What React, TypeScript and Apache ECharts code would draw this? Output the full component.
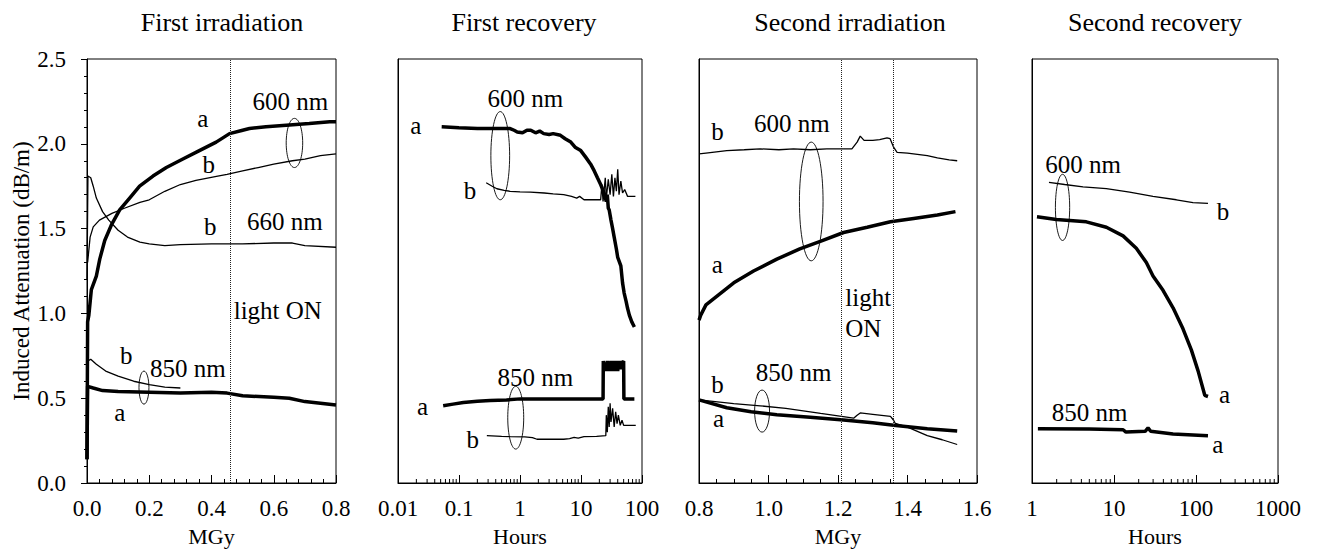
import React, { useEffect, useRef } from "react";
import * as echarts from "echarts";

const FONT = "'Liberation Serif', 'Times New Roman', 'DejaVu Serif', serif";

// ---------- Panel titles ----------
const panelTitles = ["First irradiation", "First recovery", "Second irradiation", "Second recovery"];
const yAxisName = "Induced Attenuation (dB/m)";
const xNames = ["MGy", "Hours", "MGy", "Hours"];

// ---------- tick labels for log axes ----------
const p2TickValues = [0.01, 0.1, 1, 10, 100];
const p2TickLabels = ["0.01", "0.1", "1", "10", "100"];
const p4TickValues = [1, 10, 100, 1000];
const p4TickLabels = ["1", "10", "100", "1000"];
const p2Decades = [0.01, 0.1, 1, 10];
const p4Decades = [1, 10, 100];
const minorMult = [2, 3, 4, 5, 6, 7, 8, 9];

// ---------- Panel 1: First irradiation ----------
const p1_600a = [[0, 0.14], [0.002, 0.95], [0.006, 0.99], [0.014, 1.14], [0.03, 1.22], [0.041, 1.32], [0.057, 1.43], [0.078, 1.52], [0.105, 1.61], [0.137, 1.68], [0.169, 1.75], [0.212, 1.81], [0.255, 1.86], [0.308, 1.91], [0.361, 1.96], [0.415, 2.01], [0.458, 2.06], [0.5, 2.08], [0.522, 2.09], [0.575, 2.10], [0.64, 2.11], [0.714, 2.12], [0.78, 2.13], [0.8, 2.13]];
const p1_600b = [[0.002, 1.30], [0.01, 1.45], [0.02, 1.51], [0.04, 1.55], [0.08, 1.59], [0.12, 1.62], [0.17, 1.655], [0.2, 1.67], [0.25, 1.72], [0.3, 1.76], [0.35, 1.785], [0.42, 1.81], [0.45, 1.82], [0.5, 1.84], [0.55, 1.86], [0.6, 1.88], [0.66, 1.90], [0.7, 1.91], [0.75, 1.93], [0.8, 1.94]];
const p1_660b = [[0, 1.2], [0.003, 1.81], [0.012, 1.80], [0.02, 1.75], [0.03, 1.68], [0.05, 1.60], [0.07, 1.55], [0.1, 1.49], [0.13, 1.45], [0.17, 1.42], [0.2, 1.41], [0.25, 1.40], [0.3, 1.405], [0.4, 1.41], [0.5, 1.41], [0.6, 1.415], [0.66, 1.415], [0.7, 1.40], [0.8, 1.39]];
const p1_850b = [[0, 0.3], [0.003, 0.72], [0.012, 0.73], [0.03, 0.70], [0.06, 0.66], [0.1, 0.63], [0.15, 0.60], [0.2, 0.58], [0.25, 0.565], [0.3, 0.56]];
const p1_850a = [[0, 0.14], [0.002, 0.57], [0.02, 0.56], [0.05, 0.545], [0.1, 0.54], [0.2, 0.535], [0.3, 0.53], [0.4, 0.535], [0.45, 0.53], [0.5, 0.515], [0.6, 0.505], [0.65, 0.50], [0.7, 0.48], [0.75, 0.47], [0.8, 0.46]];
const p1LightOn = [0.46];
const p1Notes: [number, number, string][] = [[0.372, 2.15, "a"], [0.653, 2.25, "600 nm"], [0.391, 1.88, "b"], [0.396, 1.51, "b"], [0.636, 1.54, "660 nm"], [0.613, 1.02, "light ON"], [0.126, 0.754, "b"], [0.324, 0.678, "850 nm"], [0.105, 0.413, "a"]];
const p1Ellipses = [[0.640, 0.693, 1.86, 2.15], [0.167, 0.199, 0.465, 0.66]];

// ---------- Panel 2: First recovery (Hours, log) ----------
const p2_600a = [[0.052, 2.10], [0.1, 2.095], [0.2, 2.09], [0.4, 2.09], [0.69, 2.09], [0.8, 2.08], [0.9, 2.07], [1.1, 2.065], [1.3, 2.08], [1.5, 2.08], [1.8, 2.065], [2.1, 2.075], [2.45, 2.06], [3, 2.055], [3.5, 2.06], [4.6, 2.05], [5.5, 2.03], [6.8, 2.01], [8, 1.98], [9.9, 1.96], [12, 1.92], [14.4, 1.88], [16.5, 1.84], [18.6, 1.80], [21, 1.76], [23.9, 1.71], [26, 1.66], [27, 1.70], [28, 1.62], [29, 1.61], [31, 1.55], [33, 1.50], [35, 1.45], [38, 1.38], [40, 1.33], [42, 1.31], [45, 1.28], [48, 1.18], [51, 1.12], [55, 1.07], [58, 1.03], [62, 0.99], [68, 0.95], [75, 0.92]];
const p2_600b = [[0.279, 1.77], [0.35, 1.75], [0.418, 1.735], [0.55, 1.725], [0.69, 1.72], [1, 1.717], [1.48, 1.715], [2.5, 1.71], [3.5, 1.705], [5.2, 1.70], [7, 1.69], [8.5, 1.68], [9.5, 1.69], [11.2, 1.67], [15, 1.67], [21, 1.67], [22, 1.76], [23, 1.66], [25, 1.80], [26, 1.68], [28, 1.79], [30, 1.70], [32, 1.82], [34, 1.69], [36, 1.80], [38, 1.72], [40, 1.85], [42, 1.70], [45, 1.78], [48, 1.71], [52, 1.73], [58, 1.69], [78, 1.69]];
const p2_850a = [[0.055, 0.455], [0.08, 0.465], [0.118, 0.475], [0.2, 0.482], [0.324, 0.486], [0.6, 0.49], [1.01, 0.496], [2, 0.496], [5.25, 0.496], [10, 0.496], [21, 0.496], [23, 0.496], [23.2, 0.72], [24, 0.67], [25, 0.71], [26, 0.66], [27, 0.72], [28, 0.66], [29, 0.71], [30, 0.67], [31, 0.72], [32, 0.66], [33, 0.71], [34, 0.67], [35, 0.72], [36, 0.66], [37, 0.72], [38, 0.67], [39, 0.71], [40, 0.66], [41, 0.72], [42, 0.67], [43, 0.71], [44, 0.67], [45, 0.72], [46, 0.68], [47, 0.72], [48, 0.70], [50, 0.72], [50.5, 0.496], [75, 0.496]];
const p2_850b = [[0.286, 0.279], [0.5, 0.275], [0.69, 0.273], [1.2, 0.272], [1.6, 0.268], [1.9, 0.258], [3, 0.258], [5.2, 0.258], [6.5, 0.262], [7.7, 0.269], [9, 0.265], [11.2, 0.273], [18, 0.275], [25.5, 0.279], [26, 0.40], [27, 0.30], [28, 0.45], [29, 0.33], [30, 0.47], [31, 0.36], [33, 0.44], [35, 0.33], [37, 0.42], [39, 0.35], [41, 0.40], [44, 0.34], [47, 0.37], [50, 0.34], [55, 0.34], [79, 0.34]];
const p2Notes: [number, number, string][] = [[1.22, 2.27, "600 nm"], [0.0195, 2.11, "a"], [0.152, 1.725, "b"], [1.79, 0.62, "850 nm"], [0.0252, 0.45, "a"], [0.168, 0.258, "b"]];
const p2Ellipses = [[0.333, 0.676, 1.67, 2.19], [0.63, 1.15, 0.20, 0.57]];

// ---------- Panel 3: Second irradiation ----------
const p3_600b = [[0.8, 1.94], [0.82, 1.945], [0.88, 1.96], [0.93, 1.965], [0.976, 1.97], [1.03, 1.965], [1.072, 1.97], [1.12, 1.965], [1.168, 1.97], [1.2, 1.97], [1.24, 1.97], [1.255, 2.01], [1.264, 2.045], [1.275, 2.02], [1.3, 2.02], [1.32, 2.025], [1.341, 2.035], [1.35, 2.03], [1.36, 1.98], [1.37, 1.95], [1.4, 1.945], [1.457, 1.93], [1.486, 1.917], [1.52, 1.905], [1.543, 1.90]];
const p3_600a = [[0.8, 0.96], [0.805, 0.99], [0.82, 1.05], [0.86, 1.115], [0.9, 1.18], [0.957, 1.25], [1.024, 1.32], [1.09, 1.38], [1.149, 1.425], [1.216, 1.477], [1.284, 1.508], [1.351, 1.54], [1.418, 1.56], [1.486, 1.58], [1.538, 1.60]];
const p3_850b = [[0.8, 0.49], [0.9, 0.468], [0.976, 0.455], [1.05, 0.44], [1.15, 0.41], [1.245, 0.382], [1.255, 0.40], [1.264, 0.413], [1.3, 0.405], [1.351, 0.393], [1.36, 0.37], [1.365, 0.351], [1.4, 0.33], [1.457, 0.279], [1.5, 0.255], [1.543, 0.227]];
const p3_850a = [[0.8, 0.49], [0.88, 0.444], [0.95, 0.42], [1.024, 0.403], [1.12, 0.388], [1.216, 0.372], [1.3, 0.355], [1.36, 0.341], [1.457, 0.32], [1.543, 0.306]];
const p3LightOn = [1.213, 1.359];
const p3Notes: [number, number, string][] = [[0.853, 2.07, "b"], [1.067, 2.12, "600 nm"], [0.853, 1.29, "a"], [1.221, 1.095, "light"], [1.221, 0.909, "ON"], [1.072, 0.65, "850 nm"], [0.853, 0.579, "b"], [0.856, 0.382, "a"]];
const p3Ellipses = [[1.089, 1.157, 1.31, 2.01], [0.96, 1.003, 0.30, 0.548]];

// ---------- Panel 4: Second recovery (Hours, log) ----------
const p4_600b = [[1.61, 1.773], [2.5, 1.76], [4.19, 1.746], [8.07, 1.736], [15.5, 1.715], [29.9, 1.69], [57.6, 1.67], [91.9, 1.653], [140, 1.649]];
const p4_600a = [[1.15, 1.57], [1.98, 1.554], [4.6, 1.54], [8.07, 1.508], [12.9, 1.457], [18.7, 1.384], [24.8, 1.30], [29.9, 1.22], [39.6, 1.136], [52.5, 1.033], [69.4, 0.909], [87.7, 0.785], [106, 0.661], [128, 0.517], [140, 0.51]];
const p4_850a = [[1.18, 0.32], [5, 0.318], [12.9, 0.314], [14, 0.30], [24, 0.305], [26, 0.325], [28, 0.305], [52.5, 0.289], [140, 0.279]];
const p4Notes: [number, number, string][] = [[4.19, 1.88, "600 nm"], [213, 1.60, "b"], [223, 0.52, "a"], [5.05, 0.413, "850 nm"], [185, 0.227, "a"]];
const p4Ellipses = [[1.93, 2.88, 1.43, 1.82]];

const grids = [
  { left: 87, top: 59, width: 249, height: 424 },
  { left: 398, top: 59, width: 244, height: 424 },
  { left: 699, top: 59, width: 278, height: 424 },
  { left: 1032, top: 59, width: 246, height: 424 },
];
const titleCenters = [222, 524, 850, 1155];

function nearestLabel(v: number, vals: number[], labels: string[]) {
  let best = 0;
  let bd = Infinity;
  vals.forEach((t, i) => {
    const d = Math.abs(Math.log10(v) - Math.log10(t));
    if (d < bd) { bd = d; best = i; }
  });
  return labels[best];
}

const black = "#000";

function lineSeries(data: number[][], gi: number, thick: boolean, extra: any = {}) {
  return {
    type: "line",
    xAxisIndex: gi,
    yAxisIndex: gi,
    data,
    symbol: "none",
    showSymbol: false,
    silent: true,
    z: thick ? 4 : 3,
    lineStyle: { color: black, width: thick ? 3.5 : 1.3 },
    ...extra,
  };
}

function lightMark(values: number[]) {
  return {
    markLine: {
      symbol: "none",
      silent: true,
      label: { show: false },
      lineStyle: { type: "dotted", color: "#222", width: 1 },
      data: values.map((v) => ({ xAxis: v })),
    },
  };
}

function notesSeries(notes: [number, number, string][], gi: number) {
  return {
    type: "custom",
    xAxisIndex: gi,
    yAxisIndex: gi,
    silent: true,
    clip: false,
    z: 6,
    data: notes.map((n) => [n[0], n[1]]),
    renderItem: (params: any, api: any) => {
      const p = api.coord([api.value(0), api.value(1)]);
      const txt = notes[params.dataIndex][2];
      const leftAligned = txt === "light" || txt === "ON";
      return {
        type: "text",
        x: p[0],
        y: p[1],
        style: {
          text: txt,
          fontFamily: FONT,
          fontSize: 25,
          fill: black,
          align: leftAligned ? "left" : "center",
          verticalAlign: "middle",
        },
      };
    },
  };
}

function ellipseSeries(ells: number[][], gi: number) {
  return {
    type: "custom",
    xAxisIndex: gi,
    yAxisIndex: gi,
    silent: true,
    clip: false,
    z: 5,
    data: ells,
    renderItem: (params: any, api: any) => {
      const a = api.coord([api.value(0), api.value(2)]);
      const b = api.coord([api.value(1), api.value(3)]);
      return {
        type: "ellipse",
        shape: {
          cx: (a[0] + b[0]) / 2,
          cy: (a[1] + b[1]) / 2,
          rx: Math.abs(b[0] - a[0]) / 2,
          ry: Math.abs(a[1] - b[1]) / 2,
        },
        style: { fill: "none", stroke: black, lineWidth: 0.9 },
      };
    },
  };
}

function logMinorSeries(decades: number[], gi: number) {
  const vals: number[][] = [];
  decades.forEach((d) => minorMult.forEach((m) => vals.push([d * m, 0])));
  return {
    type: "custom",
    xAxisIndex: gi,
    yAxisIndex: gi,
    silent: true,
    clip: false,
    z: 6,
    data: vals,
    renderItem: (params: any, api: any) => {
      const p = api.coord([api.value(0), 0]);
      return {
        type: "line",
        shape: { x1: p[0], y1: p[1], x2: p[0], y2: p[1] - 4 },
        style: { stroke: black, lineWidth: 1 },
      };
    },
  };
}

const labelStyle = { fontFamily: FONT, fontSize: 23, color: black };
const nameStyle = { fontFamily: FONT, fontSize: 22, color: black };

function xValueAxis(gi: number, min: number, max: number, interval: number, minorSplit: number) {
  return {
    type: "value",
    gridIndex: gi,
    min,
    max,
    interval,
    axisLine: { show: true, onZero: false, lineStyle: { color: black, width: 1 } },
    axisTick: { show: true, inside: true, length: 8, lineStyle: { color: black, width: 1 } },
    minorTick: { show: true, splitNumber: minorSplit, length: 4, lineStyle: { color: black, width: 1 } },
    axisLabel: { ...labelStyle, margin: 14, formatter: (v: number) => v.toFixed(1) },
    splitLine: { show: false },
    minorSplitLine: { show: false },
    name: xNames[gi],
    nameLocation: "middle",
    nameGap: 42,
    nameTextStyle: nameStyle,
  };
}

function xLogAxis(gi: number, min: number, max: number, vals: number[], labels: string[]) {
  return {
    type: "log",
    logBase: 10,
    gridIndex: gi,
    min,
    max,
    axisLine: { show: true, onZero: false, lineStyle: { color: black, width: 1 } },
    axisTick: { show: true, inside: true, length: 8, lineStyle: { color: black, width: 1 } },
    axisLabel: { ...labelStyle, margin: 14, formatter: (v: number) => nearestLabel(v, vals, labels) },
    splitLine: { show: false },
    name: xNames[gi],
    nameLocation: "middle",
    nameGap: 42,
    nameTextStyle: nameStyle,
  };
}

function yAxis(gi: number) {
  const first = gi === 0;
  return {
    type: "value",
    gridIndex: gi,
    min: 0,
    max: 2.5,
    interval: 0.5,
    axisLine: { show: true, onZero: false, lineStyle: { color: black, width: 1 } },
    axisTick: { show: first, inside: false, length: 6, lineStyle: { color: black } },
    minorTick: { show: first, splitNumber: 5, length: 3, lineStyle: { color: black } },
    axisLabel: { show: first, ...labelStyle, margin: 21, formatter: (v: number) => v.toFixed(1) },
    splitLine: { show: false },
    minorSplitLine: { show: false },
    name: first ? yAxisName : "",
    nameLocation: "middle",
    nameRotate: 90,
    nameGap: 54,
    nameTextStyle: { fontFamily: FONT, fontSize: 23, color: black },
  };
}

export default function App() {
  const ref = useRef<HTMLDivElement>(null);
  useEffect(() => {
    if (!ref.current) return;
    const chart = echarts.init(ref.current, null, { renderer: "svg" });
    const option: any = {
      animation: false,
      backgroundColor: "#fff",
      textStyle: { fontFamily: FONT },
      grid: grids.map((g) => ({
        ...g,
        show: true,
        borderColor: black,
        borderWidth: 1,
        backgroundColor: "transparent",
        containLabel: false,
        outerBoundsMode: "none",
      })),
      graphic: panelTitles.map((t, i) => ({
        type: "text",
        x: titleCenters[i],
        y: 22,
        style: { text: t, fontFamily: FONT, fontSize: 26, fill: black, align: "center", verticalAlign: "middle" },
      })),
      xAxis: [
        xValueAxis(0, 0, 0.8, 0.2, 5),
        xLogAxis(1, 0.01, 100, p2TickValues, p2TickLabels),
        xValueAxis(2, 0.8, 1.6, 0.2, 4),
        xLogAxis(3, 1, 1000, p4TickValues, p4TickLabels),
      ],
      yAxis: [yAxis(0), yAxis(1), yAxis(2), yAxis(3)],
      series: [
        lineSeries(p1_600a, 0, true, lightMark(p1LightOn)),
        lineSeries(p1_600b, 0, false),
        lineSeries(p1_660b, 0, false),
        lineSeries(p1_850b, 0, false),
        lineSeries(p1_850a, 0, true),
        notesSeries(p1Notes, 0),
        ellipseSeries(p1Ellipses, 0),

        lineSeries(p2_600a, 1, true),
        lineSeries(p2_600b, 1, false),
        lineSeries(p2_850a, 1, true),
        lineSeries(p2_850b, 1, false),
        notesSeries(p2Notes, 1),
        ellipseSeries(p2Ellipses, 1),
        logMinorSeries(p2Decades, 1),

        lineSeries(p3_600a, 2, true, lightMark(p3LightOn)),
        lineSeries(p3_600b, 2, false),
        lineSeries(p3_850a, 2, true),
        lineSeries(p3_850b, 2, false),
        notesSeries(p3Notes, 2),
        ellipseSeries(p3Ellipses, 2),

        lineSeries(p4_600a, 3, true),
        lineSeries(p4_600b, 3, false),
        lineSeries(p4_850a, 3, true),
        notesSeries(p4Notes, 3),
        ellipseSeries(p4Ellipses, 3),
        logMinorSeries(p4Decades, 3),
      ],
    };
    chart.setOption(option);
    return () => chart.dispose();
  }, []);
  return (
    <div
      ref={ref}
      style={{ position: "absolute", left: 0, top: 0, width: 1317, height: 549, background: "#fff" }}
    />
  );
}
